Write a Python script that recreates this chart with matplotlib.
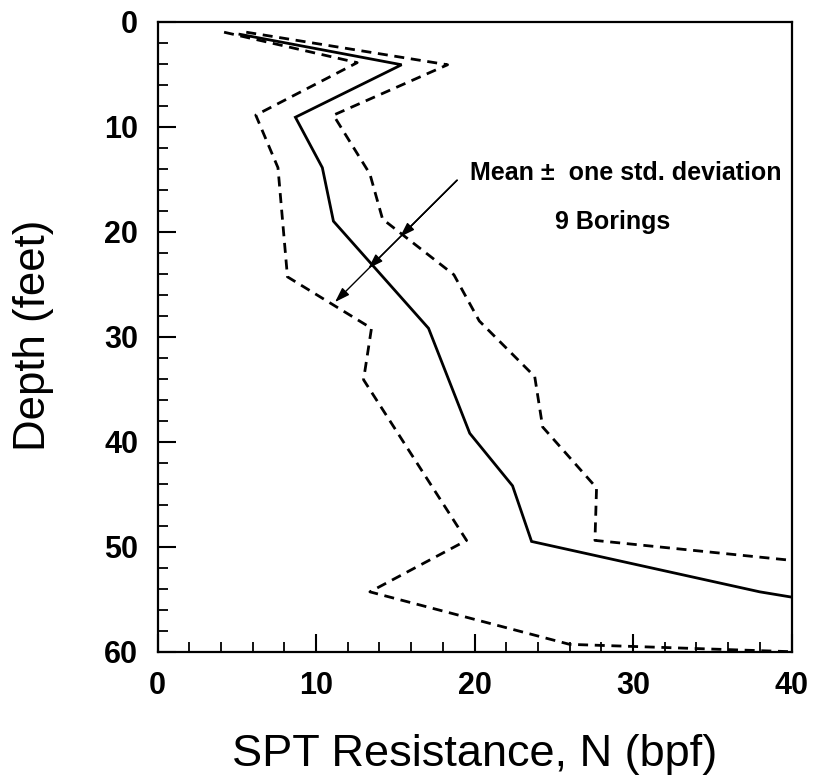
import numpy as np
import matplotlib
matplotlib.use("Agg")
import matplotlib.pyplot as plt

plt.rcParams['font.family'] = ['Liberation Sans', 'DejaVu Sans']

# Mean SPT profile (solid)
mean_depth = [1.2, 4.1, 9.1, 13.9, 19.0, 29.2, 39.2, 44.2, 49.5, 54.3, 54.8]
mean_n = [5.2, 15.4, 8.7, 10.4, 11.1, 17.1, 19.7, 22.4, 23.6, 38.0, 40.0]

# Mean - one std. deviation (dashed)
lo_depth = [1.0, 3.9, 8.9, 13.9, 24.3, 29.2, 34.1, 49.4, 54.3, 59.3, 60.0]
lo_n = [4.2, 12.6, 6.2, 7.6, 8.2, 13.5, 13.0, 19.5, 13.4, 26.0, 40.0]

# Mean + one std. deviation (dashed)
up_depth = [1.0, 4.1, 8.9, 14.5, 18.8, 24.1, 28.5, 33.8, 38.6, 44.4, 49.4, 51.3]
up_n = [5.6, 18.3, 11.1, 13.4, 14.2, 18.7, 20.3, 23.8, 24.3, 27.7, 27.6, 40.0]

x_ticks = [0, 10, 20, 30, 40]
y_ticks = [0, 10, 20, 30, 40, 50, 60]
x_label = "SPT Resistance, N (bpf)"
y_label = "Depth (feet)"
note1 = "Mean \u00b1  one std. deviation"
note2 = "9 Borings"
arrow_start = (18.9, 15.1)
arrow_tips = [(15.3, 20.5), (13.3, 23.5), (11.2, 26.7)]

W, H = 814, 776
fig = plt.figure(figsize=(W / 100, H / 100), dpi=100)
L, R, T, B = 157.5, 791.5, 21.7, 651.7
ax = fig.add_axes([L / W, 1 - B / H, (R - L) / W, (B - T) / H])

ax.plot(mean_n, mean_depth, color='black', lw=2.0, solid_joinstyle='miter')
ax.plot(lo_n, lo_depth, color='black', lw=2.0, dashes=(3.6, 2.4))
ax.plot(up_n, up_depth, color='black', lw=2.0, dashes=(3.6, 2.4))

ax.set_xlim(0, 40)
ax.set_ylim(60, 0)
ax.set_xticks(x_ticks)
ax.set_xticks(np.arange(0, 41, 2), minor=True)
ax.set_yticks(y_ticks)
ax.set_yticks(np.arange(0, 61, 2), minor=True)
ax.tick_params(which='major', direction='in', length=13, width=1.5,
               top=False, right=False, labelsize=22)
ax.tick_params(which='minor', direction='in', length=7, width=1.3,
               top=False, right=False)
ax.tick_params(axis='y', which='major', pad=14)
ax.tick_params(axis='x', which='major', pad=14)
for lab in ax.get_xticklabels() + ax.get_yticklabels():
    lab.set_fontweight('bold')
for s in ax.spines.values():
    s.set_linewidth(1.6)

fig.text(474.5 / W, 1 - 766 / H, x_label, fontsize=32.5,
         ha='center', va='baseline')
fig.text(34 / W, 1 - 335 / H, y_label, fontsize=31.5, rotation=90,
         ha='center', va='center')

ax.text(19.7, 14.4, note1, fontsize=18, fontweight='bold', ha='left', va='center')
ax.text(28.7, 19.1, note2, fontsize=18, fontweight='bold', ha='center', va='center')

for tip in arrow_tips:
    ax.annotate('', xy=tip, xytext=arrow_start,
                arrowprops=dict(arrowstyle='-|>,head_length=0.9,head_width=0.3',
                                color='black', lw=1.0, shrinkA=0, shrinkB=0))

fig.savefig('out.png', dpi=100)
